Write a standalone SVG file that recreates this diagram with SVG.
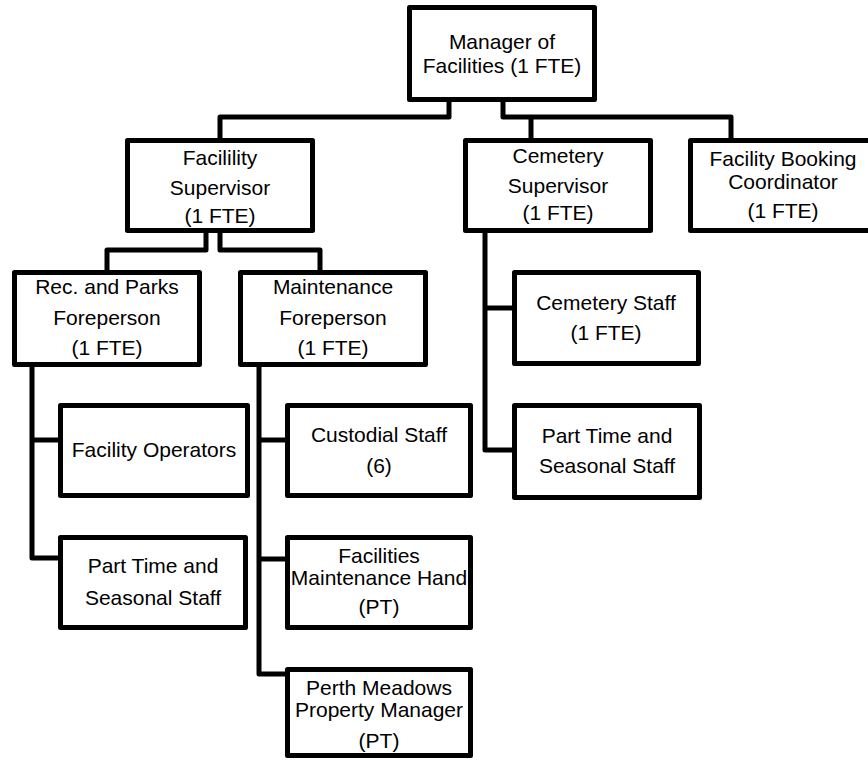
<svg xmlns="http://www.w3.org/2000/svg" width="868" height="761" viewBox="0 0 868 761">
<style>
.box{fill:#fff;stroke:#000;stroke-width:5;stroke-linejoin:round}
.c{fill:none;stroke:#000;stroke-width:5;stroke-linejoin:round;stroke-linecap:butt}
text{font-family:"Liberation Sans",Arial,sans-serif;font-size:21px;fill:#000;text-anchor:middle}
</style>
<rect width="868" height="761" fill="#fff"/>
<g id="connectors">
<path class="c" d="M449,102 V117 H220 V140"/>
<path class="c" d="M503,102 V117 H731 V140"/>
<path class="c" d="M531,117 V140"/>
<path class="c" d="M206,233 V250 H107 V272"/>
<path class="c" d="M220,233 V250 H320 V272"/>
<path class="c" d="M32,367 V558 H60"/>
<path class="c" d="M32,440 H60"/>
<path class="c" d="M259,367 V674 H287"/>
<path class="c" d="M259,440 H287"/>
<path class="c" d="M259,559 H287"/>
<path class="c" d="M485,233 V450 H514"/>
<path class="c" d="M485,308 H514"/>
</g>
<g id="manager">
<rect class="box" x="409.5" y="7.5" width="185" height="92"/>
<text x="502" y="49">Manager of</text>
<text x="502" y="73">Facilities (1 FTE)</text>
</g>
<g id="facility-supervisor">
<rect class="box" x="127.5" y="140.5" width="185" height="90"/>
<text x="220" y="165">Facilility</text>
<text x="220" y="195">Supervisor</text>
<text x="220" y="223">(1 FTE)</text>
</g>
<g id="cemetery-supervisor">
<rect class="box" x="465.5" y="140.5" width="185" height="90"/>
<text x="558" y="163">Cemetery</text>
<text x="558" y="193">Supervisor</text>
<text x="558" y="220">(1 FTE)</text>
</g>
<g id="booking-coordinator">
<rect class="box" x="690.5" y="140.5" width="185" height="90"/>
<text x="783" y="166">Facility Booking</text>
<text x="783" y="189">Coordinator</text>
<text x="783" y="218">(1 FTE)</text>
</g>
<g id="rec-parks-foreperson">
<rect class="box" x="14.5" y="272.5" width="185" height="92"/>
<text x="107" y="294">Rec. and Parks</text>
<text x="107" y="325">Foreperson</text>
<text x="107" y="355">(1 FTE)</text>
</g>
<g id="maintenance-foreperson">
<rect class="box" x="240.5" y="272.5" width="185" height="92"/>
<text x="333" y="294">Maintenance</text>
<text x="333" y="325">Foreperson</text>
<text x="333" y="355">(1 FTE)</text>
</g>
<g id="cemetery-staff">
<rect class="box" x="514.5" y="272.5" width="184" height="91"/>
<text x="606" y="310">Cemetery Staff</text>
<text x="606" y="340">(1 FTE)</text>
</g>
<g id="facility-operators">
<rect class="box" x="60.5" y="405.5" width="187" height="90"/>
<text x="154" y="457">Facility Operators</text>
</g>
<g id="custodial-staff">
<rect class="box" x="287.5" y="405.5" width="183" height="90"/>
<text x="379" y="442">Custodial Staff</text>
<text x="379" y="473">(6)</text>
</g>
<g id="cemetery-part-time">
<rect class="box" x="514.5" y="405.5" width="185" height="92"/>
<text x="607" y="443">Part Time and</text>
<text x="607" y="473">Seasonal Staff</text>
</g>
<g id="rec-part-time">
<rect class="box" x="60.5" y="537.5" width="185" height="90"/>
<text x="153" y="573">Part Time and</text>
<text x="153" y="605">Seasonal Staff</text>
</g>
<g id="facilities-maintenance-hand">
<rect class="box" x="287.5" y="537.5" width="183" height="90"/>
<text x="379" y="563">Facilities</text>
<text x="379" y="585">Maintenance Hand</text>
<text x="379" y="614">(PT)</text>
</g>
<g id="perth-meadows-manager">
<rect class="box" x="287.5" y="669.5" width="183" height="86"/>
<text x="379" y="695">Perth Meadows</text>
<text x="379" y="717">Property Manager</text>
<text x="379" y="748">(PT)</text>
</g>
</svg>
